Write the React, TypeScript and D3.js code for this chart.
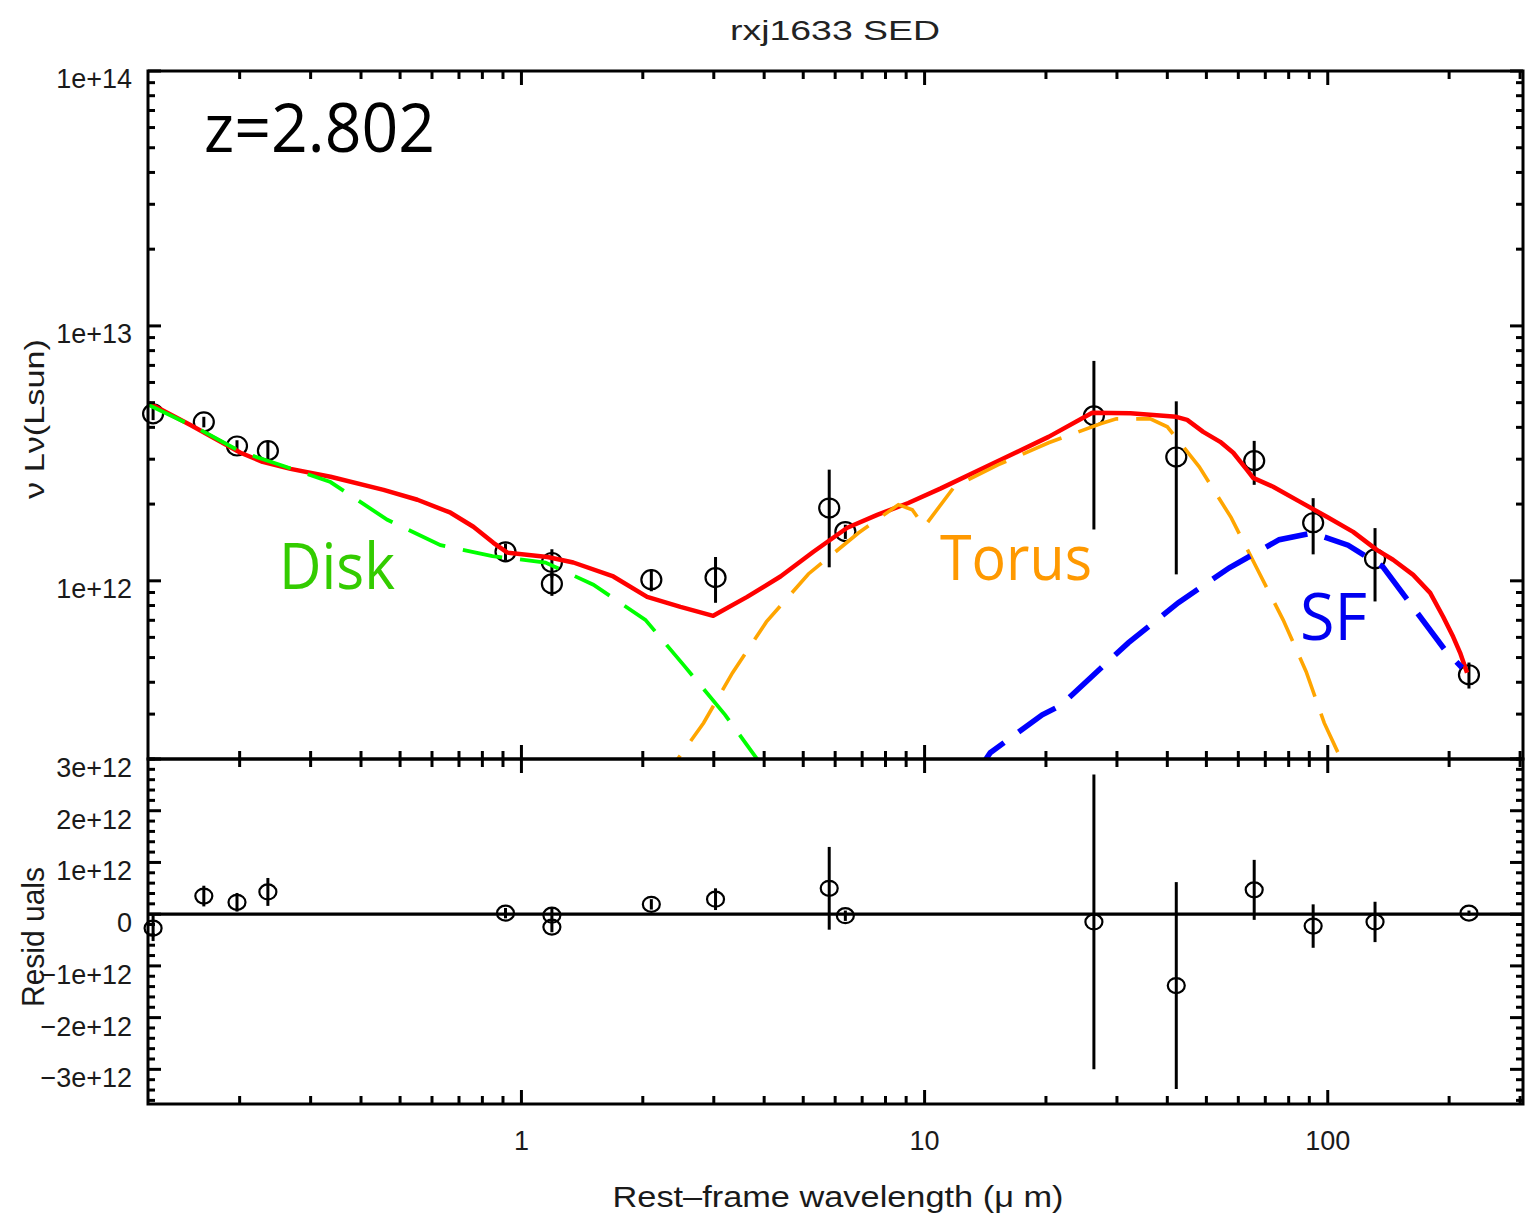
import React from 'react';
import * as d3 from 'd3';

const W = 1526;
const H = 1217;
const LEFT = 148;
const RIGHT = 1523;
const TOP = 71;
const MID = 759;
const BOTTOM = 1104;

// Observed photometry: rest-frame wavelength (um), nu L_nu (Lsun), 1-sigma error, residual
const obsWave = [0.122, 0.163, 0.197, 0.235, 0.913, 1.19, 1.19, 2.1, 3.03, 5.8, 6.36, 26.3, 42.1, 65.7, 92.0, 131, 224];
const obsLum = [4.52e12, 4.2e12, 3.38e12, 3.24e12, 1.3e12, 1.18e12, 0.973e12, 1.01e12, 1.03e12, 1.93e12, 1.56e12, 4.44e12, 3.06e12, 2.96e12, 1.69e12, 1.22e12, 0.428e12];
const obsErr = [0.25e12, 0.2e12, 0.18e12, 0.27e12, 0.1e12, 0.15e12, 0.1e12, 0.1e12, 0.21e12, 0.8e12, 0.1e12, 2.85e12, 2.0e12, 0.58e12, 0.42e12, 0.39e12, 0.05e12];
const residual = [-0.27e12, 0.35e12, 0.23e12, 0.43e12, 0.02e12, -0.02e12, -0.25e12, 0.19e12, 0.29e12, 0.5e12, -0.03e12, -0.15e12, -1.38e12, 0.47e12, -0.23e12, -0.15e12, 0.02e12];

// Best-fit total model
const totalWave = [0.119, 0.151, 0.201, 0.228, 0.2675, 0.336, 0.455, 0.552, 0.667, 0.76, 0.852, 0.923, 1.16, 1.345, 1.69, 2.05, 2.48, 2.99, 3.63, 4.39, 5.3, 6.43, 7.63, 9.11, 10.94, 15.4, 20.3, 26.05, 32.4, 42.1, 44.8, 49.1, 54.1, 58.3, 63.1, 65.3, 73.2, 85.4, 99.7, 115.6, 132.6, 145.2, 162.9, 179.5, 193.3, 204.7, 213, 221.6];
const totalLum = [4.99e12, 4.09e12, 3.18e12, 2.93e12, 2.75e12, 2.56e12, 2.275e12, 2.08e12, 1.85e12, 1.63e12, 1.41e12, 1.29e12, 1.24e12, 1.18e12, 1.04e12, 0.865e12, 0.79e12, 0.729e12, 0.865e12, 1.04e12, 1.3e12, 1.615e12, 1.815e12, 2.02e12, 2.3e12, 2.98e12, 3.67e12, 4.56e12, 4.54e12, 4.4e12, 4.28e12, 3.84e12, 3.51e12, 3.18e12, 2.72e12, 2.535e12, 2.34e12, 2.04e12, 1.78e12, 1.556e12, 1.32e12, 1.21e12, 1.055e12, 0.897e12, 0.723e12, 0.603e12, 0.522e12, 0.436e12];

// Accretion disk component
const diskWave = [0.119, 0.16, 0.201, 0.257, 0.336, 0.465, 0.63, 0.847, 1.147, 1.508, 2.03, 2.52, 3.2, 3.85, 4.26];
const diskLum = [4.9e12, 3.91e12, 3.21e12, 2.82e12, 2.44e12, 1.735e12, 1.38e12, 1.25e12, 1.18e12, 0.965e12, 0.703e12, 0.469e12, 0.298e12, 0.199e12, 0.151e12];

// Dusty torus component
const torusWave = [2.16, 2.437, 2.83, 3.34, 4.05, 5.15, 6.85, 8.61, 9.32, 9.98, 11.85, 15.2, 20.3, 27.3, 29.9, 36.3, 40.0, 48.0, 57.6, 66.8, 77.5, 88.4, 98.0, 108, 115];
const torusLum = [0.151e12, 0.199e12, 0.277e12, 0.436e12, 0.69e12, 1.064e12, 1.54e12, 1.99e12, 1.9e12, 1.63e12, 2.34e12, 2.85e12, 3.48e12, 4.13e12, 4.32e12, 4.32e12, 4.02e12, 2.8e12, 1.77e12, 1.115e12, 0.703e12, 0.44e12, 0.277e12, 0.199e12, 0.158e12];

// Star-formation component
const sfWave = [13.36, 14.55, 19.58, 21.7, 32.0, 42.6, 57.0, 75.8, 91.5, 112.3, 137, 156.4, 194.4, 215.4];
const sfLum = [0.173e12, 0.2117e12, 0.298e12, 0.3236e12, 0.571e12, 0.821e12, 1.125e12, 1.45e12, 1.54e12, 1.38e12, 1.135e12, 0.857e12, 0.541e12, 0.456e12];

const xTickValues = [1, 10, 100];
const xTickLabels = ['1', '10', '100'];
const yTopTickValues = [1e12, 1e13, 1e14];
const yTopTickLabels = ['1e+12', '1e+13', '1e+14'];
const yResTickValues = [3e12, 2e12, 1e12, 0, -1e12, -2e12, -3e12];
const yResTickLabels = ['3e+12', '2e+12', '1e+12', '0', '\u22121e+12', '\u22122e+12', '\u22123e+12'];

const x = d3.scaleLog().domain([0.1185, 305]).range([LEFT, RIGHT]);
const yTop = d3.scaleLog().domain([2e11, 1e14]).range([MID, TOP]);
const yRes = d3.scaleLinear().domain([-3.67e12, 3.0e12]).range([BOTTOM, MID]);

const AXIS_FONT = '"Liberation Sans", Arial, Helvetica, sans-serif';
const LABEL_FONT = '"Open Sans", "Noto Sans", sans-serif';

function zip(a: number[], b: number[]): [number, number][] {
  return a.map((v, i) => [v, b[i]] as [number, number]);
}

const modelLine = d3
  .line<[number, number]>()
  .x((d) => x(d[0]))
  .y((d) => yTop(d[1]));

const isPow10 = (v: number) => Math.abs(Math.log10(v) - Math.round(Math.log10(v))) < 1e-6;

export default function App() {
  const xTicks = x.ticks().filter((v) => v >= 0.1185 && v <= 305);
  const yTopTicks = yTop.ticks();
  const yResTicks = yRes.ticks(34);
  const isMajorRes = (v: number) => Math.abs(v / 1e12 - Math.round(v / 1e12)) < 1e-6;

  const stroke = '#000';
  const axW = 3;

  return (
    <svg
      width={W}
      height={H}
      viewBox={`0 0 ${W} ${H}`}
      style={{ position: 'absolute', left: 0, top: 0, display: 'block', background: '#fff' }}
    >
      <defs>
        <clipPath id="topArea">
          <rect x={LEFT} y={TOP} width={RIGHT - LEFT} height={MID - TOP} />
        </clipPath>
      </defs>
      <rect x={0} y={0} width={W} height={H} fill="#fff" />

      {/* title */}
      <text x={835} y={40} textAnchor="middle" fontFamily={AXIS_FONT} fontSize={27} fill="#222" textLength={210} lengthAdjust="spacingAndGlyphs">
        rxj1633 SED
      </text>

      {/* observed points, upper panel */}
      <g>
        {obsWave.map((w, i) => {
          const cx = x(w);
          const cy = yTop(obsLum[i]);
          const lo = Math.max(obsLum[i] - obsErr[i], 2e11);
          return (
            <g key={`o${i}`}>
              <line x1={cx} x2={cx} y1={yTop(obsLum[i] + obsErr[i])} y2={yTop(lo)} stroke={stroke} strokeWidth={3} />
              <ellipse cx={cx} cy={cy} rx={10} ry={9.5} fill="none" stroke={stroke} strokeWidth={2.2} />
            </g>
          );
        })}
      </g>

      {/* model curves */}
      <g clipPath="url(#topArea)" fill="none">
        <path d={modelLine(zip(totalWave, totalLum)) || ''} stroke="#ff0000" strokeWidth={4.5} strokeLinejoin="round" />
        <path d={modelLine(zip(diskWave, diskLum)) || ''} stroke="#00ff00" strokeWidth={3.8} strokeDasharray="40 18" />
        <path d={modelLine(zip(torusWave, torusLum)) || ''} stroke="#ffa500" strokeWidth={3.6} strokeDasharray="42 18" />
        <path d={modelLine(zip(sfWave, sfLum)) || ''} stroke="#0000ff" strokeWidth={5.5} strokeDasharray="44 18" />
      </g>

      {/* annotations */}
      <text x={204} y={152} fontFamily={LABEL_FONT} fontSize={67} fill="#000" textLength={231} lengthAdjust="spacingAndGlyphs">
        z=2.802
      </text>
      <text x={279} y={589} fontFamily={LABEL_FONT} fontSize={64} fill="#33cc00" textLength={116} lengthAdjust="spacingAndGlyphs">
        Disk
      </text>
      <text x={940} y={580} fontFamily={LABEL_FONT} fontSize={63} fill="#ff9900" textLength={152} lengthAdjust="spacingAndGlyphs">
        Torus
      </text>
      <text x={1300} y={640} fontFamily={LABEL_FONT} fontSize={65} fill="#0000f0" textLength={67} lengthAdjust="spacingAndGlyphs">
        SF
      </text>

      {/* residual panel */}
      <line x1={LEFT} x2={RIGHT} y1={yRes(0)} y2={yRes(0)} stroke={stroke} strokeWidth={3.2} />
      <g>
        {obsWave.map((w, i) => {
          const cx = x(w);
          const cy = yRes(residual[i]);
          return (
            <g key={`r${i}`}>
              <line x1={cx} x2={cx} y1={yRes(residual[i] + obsErr[i])} y2={yRes(residual[i] - obsErr[i])} stroke={stroke} strokeWidth={3} />
              <ellipse cx={cx} cy={cy} rx={8.5} ry={7.5} fill="none" stroke={stroke} strokeWidth={2.2} />
            </g>
          );
        })}
      </g>

      {/* frames */}
      <rect x={LEFT} y={TOP} width={RIGHT - LEFT} height={MID - TOP} fill="none" stroke={stroke} strokeWidth={axW} />
      <rect x={LEFT} y={MID} width={RIGHT - LEFT} height={BOTTOM - MID} fill="none" stroke={stroke} strokeWidth={axW} />

      {/* x ticks on all four horizontal edges */}
      <g stroke={stroke} strokeWidth={3}>
        {xTicks.map((v, i) => {
          const px = x(v);
          const len = isPow10(v) ? 14 : 8;
          return (
            <g key={`xt${i}`}>
              <line x1={px} x2={px} y1={TOP} y2={TOP + len} />
              <line x1={px} x2={px} y1={MID} y2={MID - len} />
              <line x1={px} x2={px} y1={MID} y2={MID + len} />
              <line x1={px} x2={px} y1={BOTTOM} y2={BOTTOM - len} />
            </g>
          );
        })}
      </g>

      {/* y ticks, upper panel */}
      <g stroke={stroke} strokeWidth={3}>
        {yTopTicks.map((v, i) => {
          const py = yTop(v);
          const len = isPow10(v) ? 13 : 7;
          return (
            <g key={`yt${i}`}>
              <line x1={LEFT} x2={LEFT + len} y1={py} y2={py} />
              <line x1={RIGHT} x2={RIGHT - len} y1={py} y2={py} />
            </g>
          );
        })}
      </g>

      {/* y ticks, residual panel */}
      <g stroke={stroke} strokeWidth={3}>
        {yResTicks.map((v, i) => {
          const py = yRes(v);
          const len = isMajorRes(v) ? 13 : 7;
          return (
            <g key={`yr${i}`}>
              <line x1={LEFT} x2={LEFT + len} y1={py} y2={py} />
              <line x1={RIGHT} x2={RIGHT - len} y1={py} y2={py} />
            </g>
          );
        })}
      </g>

      {/* tick labels */}
      <g fontFamily={AXIS_FONT} fontSize={27} fill="#1a1a1a">
        {xTickValues.map((v, i) => (
          <text key={`xl${i}`} x={x(v)} y={1150} textAnchor="middle">
            {xTickLabels[i]}
          </text>
        ))}
        {yTopTickValues.map((v, i) => (
          <text key={`ytl${i}`} x={132} y={yTop(v) + 17} textAnchor="end">
            {yTopTickLabels[i]}
          </text>
        ))}
        {yResTickValues.map((v, i) => (
          <text key={`yrl${i}`} x={132} y={yRes(v) + 18} textAnchor="end">
            {yResTickLabels[i]}
          </text>
        ))}
      </g>

      {/* axis titles */}
      <text x={838} y={1207} textAnchor="middle" fontFamily={AXIS_FONT} fontSize={29} fill="#1a1a1a" textLength={451} lengthAdjust="spacingAndGlyphs">
        Rest–frame wavelength (μ m)
      </text>
      <text transform="translate(44,419) rotate(-90)" textAnchor="middle" fontFamily={AXIS_FONT} fontSize={28} fill="#1a1a1a" textLength={160} lengthAdjust="spacingAndGlyphs">
        ν Lν(Lsun)
      </text>
      <text transform="translate(44,937) rotate(-90)" textAnchor="middle" fontFamily={AXIS_FONT} fontSize={31} fill="#1a1a1a" textLength={140} lengthAdjust="spacingAndGlyphs">
        Resid uals
      </text>
    </svg>
  );
}
